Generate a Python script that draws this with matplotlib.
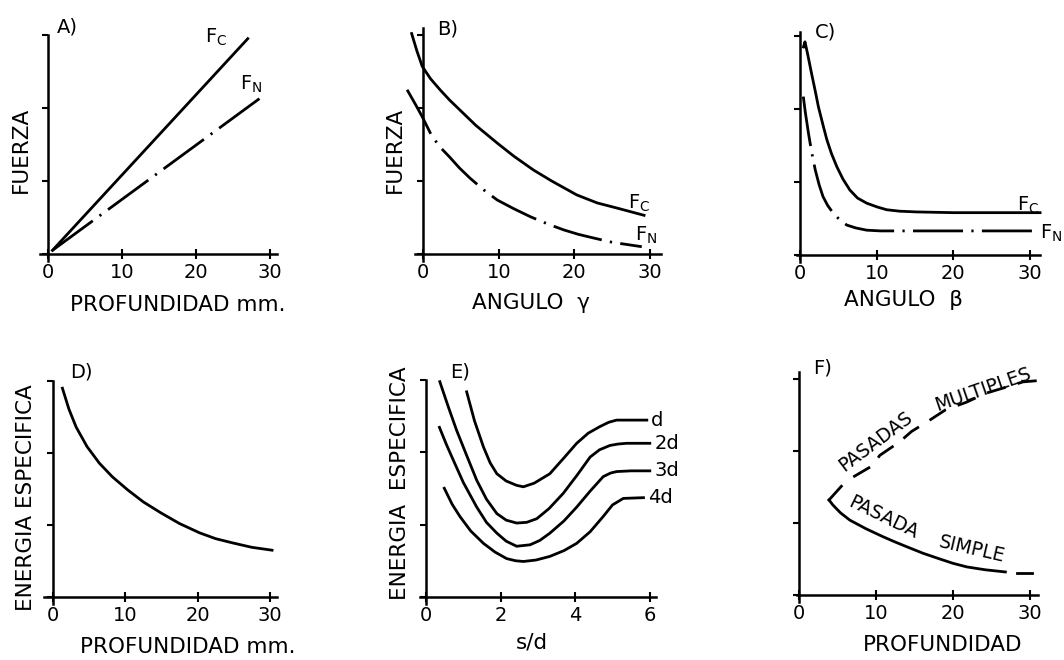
import matplotlib
matplotlib.use('Agg')
import matplotlib.pyplot as plt

plt.rcParams['font.family'] = ['DejaVu Sans']
plt.rcParams['lines.scale_dashes'] = False

W, H = 1064, 660

# A) fuerza vs profundidad
prof_a = [0.6, 27.0]
fc_a = [0.05, 2.95]
prof_a_n = [0.6, 29.0]
fn_a = [0.05, 2.16]

# B) fuerza vs angulo gamma
ang_b_c = [-1.5, -0.8, -0.1, 1.0, 2.25, 3.5, 4.9, 7.0, 9.8, 12.0, 14.6, 17.0, 20.3, 23.0, 25.6, 29.2]
fc_b = [3.02, 2.78, 2.57, 2.40, 2.25, 2.11, 1.97, 1.76, 1.52, 1.34, 1.15, 1.00, 0.81, 0.70, 0.63, 0.53]
ang_b_n = [-2.1, -1.0, -0.1, 1.1, 2.2, 3.5, 4.8, 6.2, 8.0, 9.8, 12.0, 14.2, 16.5, 18.6, 20.5, 22.5, 25.0, 28.9]
fn_b = [2.25, 2.05, 1.88, 1.63, 1.47, 1.33, 1.18, 1.04, 0.88, 0.74, 0.62, 0.51, 0.41, 0.33, 0.27, 0.22, 0.16, 0.10]

# C) fuerza vs angulo beta
ang_c_c = [0.45, 0.65, 1.0, 1.5, 2.0, 2.4, 3.0, 3.5, 4.1, 4.8, 5.6, 6.5, 7.5, 8.7, 10.0, 11.3, 13.0, 15.2, 20.0, 31.3]
fc_c = [2.85, 2.92, 2.75, 2.49, 2.24, 2.03, 1.78, 1.58, 1.39, 1.21, 1.04, 0.89, 0.78, 0.71, 0.66, 0.62, 0.60, 0.59, 0.58, 0.58]
ang_c_n = [0.43, 0.7, 1.1, 1.5, 2.0, 2.5, 3.0, 3.6, 4.35, 5.2, 6.1, 7.3, 8.7, 10.5, 13.0, 30.8]
fn_c = [2.17, 1.95, 1.67, 1.42, 1.16, 0.96, 0.80, 0.68, 0.57, 0.48, 0.41, 0.37, 0.34, 0.33, 0.33, 0.33]

# D) energia especifica vs profundidad
prof_d = [1.3, 2.2, 3.2, 4.7, 6.4, 8.2, 10.3, 12.5, 14.9, 17.5, 20.3, 22.5, 24.9, 27.5, 30.3]
en_d = [2.9, 2.61, 2.36, 2.09, 1.86, 1.67, 1.49, 1.32, 1.17, 1.02, 0.89, 0.81, 0.75, 0.69, 0.65]

# E) energia especifica vs s/d
sd_1 = [1.09, 1.3, 1.54, 1.72, 1.9, 2.15, 2.43, 2.61, 2.9, 3.32, 3.7, 4.04, 4.35, 4.66, 4.9, 5.11, 5.4, 5.92]
en_1 = [2.83, 2.43, 2.07, 1.85, 1.70, 1.60, 1.54, 1.52, 1.57, 1.70, 1.92, 2.12, 2.26, 2.35, 2.41, 2.44, 2.44, 2.44]
sd_2 = [0.37, 0.6, 0.82, 1.1, 1.36, 1.62, 1.9, 2.15, 2.43, 2.7, 2.97, 3.3, 3.68, 4.05, 4.4, 4.65, 4.93, 5.15, 5.38, 6.0]
en_2 = [2.97, 2.62, 2.30, 1.94, 1.61, 1.35, 1.15, 1.06, 1.02, 1.03, 1.08, 1.22, 1.43, 1.68, 1.93, 2.03, 2.09, 2.11, 2.12, 2.12]
sd_3 = [0.36, 0.55, 0.73, 1.0, 1.36, 1.62, 1.9, 2.15, 2.43, 2.79, 3.05, 3.32, 3.7, 4.04, 4.4, 4.75, 4.95, 5.11, 5.5, 6.0]
en_3 = [2.34, 2.10, 1.89, 1.58, 1.24, 1.03, 0.88, 0.77, 0.70, 0.72, 0.78, 0.88, 1.05, 1.24, 1.46, 1.66, 1.71, 1.73, 1.74, 1.74]
sd_4 = [0.49, 0.7, 0.91, 1.2, 1.54, 1.85, 2.16, 2.4, 2.61, 2.95, 3.32, 3.7, 4.04, 4.4, 4.75, 5.0, 5.29, 5.83]
en_4 = [1.50, 1.28, 1.11, 0.91, 0.74, 0.62, 0.53, 0.50, 0.49, 0.51, 0.56, 0.64, 0.74, 0.90, 1.11, 1.27, 1.36, 1.37]
e_names = ['d', '2d', '3d', '4d']

# F) pasada simple / pasadas multiples
prof_simple = [3.9, 4.4, 5.4, 6.6, 8.7, 10.9, 12.4, 14.0, 16.1, 18.3, 20.0, 21.8, 24.2, 26.8]
en_simple = [1.32, 1.25, 1.14, 1.04, 0.92, 0.81, 0.74, 0.67, 0.58, 0.50, 0.44, 0.39, 0.35, 0.32]
hook_x = [5.5, 3.9]
hook_y = [1.51, 1.32]
tail_x = [28.3, 30.3]
tail_y = [0.31, 0.31]
prof_multi = [7.05, 9.44, 10.5, 13.1, 14.6, 17.0, 19.0, 21.8, 24.2, 27.0, 29.1, 31.3]
en_multi = [1.64, 1.79, 1.94, 2.13, 2.27, 2.43, 2.57, 2.68, 2.80, 2.89, 2.96, 2.98]

LW = 2.0
DASHDOT = (36, 6, 1.6, 6)
FS = 14
FS_LAB = 15.5


def make_axes(fig, ox, oy, sx, sy, xlim, ylim, xticks):
    # place axes so the data origin lands on pixel (ox, oy)
    left = ox + xlim[0] * sx
    right = ox + xlim[1] * sx
    bottom = oy - ylim[0] * sy
    top = oy - ylim[1] * sy
    ax = fig.add_axes([left / W, 1 - bottom / H, (right - left) / W, (bottom - top) / H])
    ax.set_xlim(xlim)
    ax.set_ylim(ylim)
    ax.patch.set_visible(False)
    for s in ['top', 'right']:
        ax.spines[s].set_visible(False)
    for s in ['left', 'bottom']:
        ax.spines[s].set_position(('data', 0))
        ax.spines[s].set_linewidth(1.8)
    ax.set_xticks(xticks)
    ax.set_yticks([0, 1, 2, 3])
    ax.tick_params(axis='y', direction='out', length=4, width=1.5, labelleft=False)
    ax.tick_params(axis='x', direction='inout', length=7, width=1.5, labelsize=FS, pad=3)
    return ax


def label(ax, x, y, s, **kw):
    ax.text(x, y, s, fontsize=kw.pop('fontsize', FS), clip_on=False, **kw)


fig = plt.figure(figsize=(W / 100, H / 100), dpi=100)

# A
ax = make_axes(fig, 48, 254, 7.4, 73, (-1.1, 31.0), (-0.1, 3.0), [0, 10, 20, 30])
ax.plot(prof_a, fc_a, color='black', lw=LW)
ax.plot(prof_a_n, fn_a, color='black', lw=LW, dashes=DASHDOT)
label(ax, 1.2, 3.11, 'A)', va='center')
label(ax, 21.2, 2.97, r'$\mathregular{F_C}$', va='center')
label(ax, 25.9, 2.32, r'$\mathregular{F_N}$', va='center')
label(ax, 17.6, -0.70, 'PROFUNDIDAD mm.', ha='center', va='center', fontsize=FS_LAB)
label(ax, -3.65, 1.42, 'FUERZA', ha='center', va='center', rotation=90, fontsize=FS_LAB)

# B
ax = make_axes(fig, 423, 254, 7.57, 73, (-1.1, 31.5), (-0.1, 3.1), [0, 10, 20, 30])
ax.plot(ang_b_c, fc_b, color='black', lw=LW, clip_on=False)
ax.plot(ang_b_n, fn_b, color='black', lw=LW, dashes=DASHDOT, clip_on=False)
label(ax, 1.85, 3.08, 'B)', va='center')
label(ax, 27.1, 0.70, r'$\mathregular{F_C}$', va='center')
label(ax, 28.0, 0.25, r'$\mathregular{F_N}$', va='center')
label(ax, 14.3, -0.67, 'ANGULO  γ', ha='center', va='center', fontsize=FS_LAB)
label(ax, -3.7, 1.42, 'FUERZA', ha='center', va='center', rotation=90, fontsize=FS_LAB)

# C
ax = make_axes(fig, 800, 255, 7.67, 73, (-0.4, 31.3), (-0.1, 3.05), [0, 10, 20, 30])
ax.plot(ang_c_c, fc_c, color='black', lw=LW, clip_on=False)
ax.plot(ang_c_n, fn_c, color='black', lw=LW, dashes=DASHDOT, clip_on=False)
label(ax, 1.96, 3.05, 'C)', va='center')
label(ax, 28.3, 0.68, r'$\mathregular{F_C}$', va='center')
label(ax, 31.3, 0.30, r'$\mathregular{F_N}$', va='center')
label(ax, 13.5, -0.62, 'ANGULO  β', ha='center', va='center', fontsize=FS_LAB)

# D
ax = make_axes(fig, 53, 597, 7.23, 72, (-1.3, 31.0), (-0.1, 3.0), [0, 10, 20, 30])
ax.plot(prof_d, en_d, color='black', lw=LW)
label(ax, 2.35, 3.12, 'D)', va='center')
label(ax, 18.7, -0.70, 'PROFUNDIDAD mm.', ha='center', va='center', fontsize=FS_LAB)
label(ax, -3.8, 1.38, 'ENERGIA ESPECIFICA', ha='center', va='center', rotation=90, fontsize=FS_LAB)

# E
ax = make_axes(fig, 426, 597, 37.3, 72.5, (-0.16, 6.16), (-0.1, 3.0), [0, 2, 4, 6])
for xs, ys, name in zip([sd_1, sd_2, sd_3, sd_4], [en_1, en_2, en_3, en_4], e_names):
    ax.plot(xs, ys, color='black', lw=LW)
    label(ax, xs[-1] + 0.12, ys[-1], name, va='center', fontsize=FS)
label(ax, 0.64, 3.1, 'E)', va='center')
label(ax, 2.84, -0.63, 's/d', ha='center', va='center', fontsize=FS_LAB)
label(ax, -0.70, 1.57, 'ENERGIA  ESPECIFICA', ha='center', va='center', rotation=90, fontsize=FS_LAB)

# F
ax = make_axes(fig, 799, 595, 7.7, 72, (-0.3, 31.1), (-0.1, 3.1), [0, 10, 20, 30])
ax.plot(prof_simple, en_simple, color='black', lw=LW)
ax.plot(hook_x, hook_y, color='black', lw=LW)
ax.plot(tail_x, tail_y, color='black', lw=LW)
ax.plot(prof_multi, en_multi, color='black', lw=LW, dashes=(14, 9), clip_on=False)
label(ax, 1.8, 3.15, 'F)', va='center')
label(ax, 9.9, 2.13, 'PASADAS', ha='center', va='center', rotation=37, fontsize=13.5)
label(ax, 23.9, 2.85, 'MULTIPLES', ha='center', va='center', rotation=19, fontsize=13.5)
label(ax, 11.0, 1.08, 'PASADA', ha='center', va='center', rotation=-26, fontsize=13.5)
label(ax, 22.5, 0.64, 'SIMPLE', ha='center', va='center', rotation=-13, fontsize=13.5)
label(ax, 18.7, -0.69, 'PROFUNDIDAD', ha='center', va='center', fontsize=FS_LAB)

fig.savefig('out.png', dpi=100, facecolor='white')
